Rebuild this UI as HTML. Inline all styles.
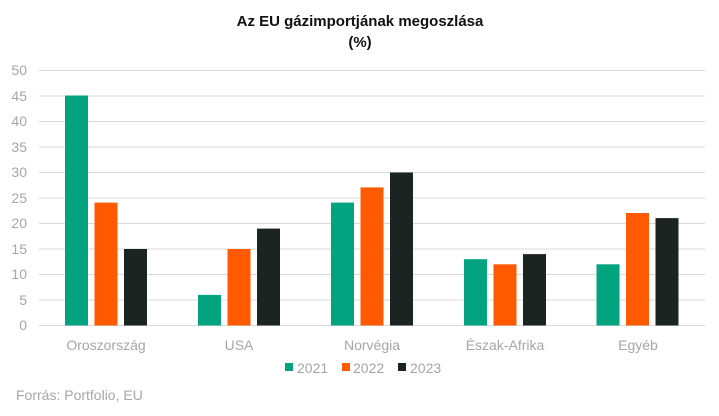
<!DOCTYPE html>
<html><head><meta charset="utf-8"><style>
body{margin:0;background:#fff;}
svg{display:block;font-family:"Liberation Sans",Arial,sans-serif;}
</style></head><body>
<svg width="719" height="416" viewBox="0 0 719 416" xmlns="http://www.w3.org/2000/svg">
<rect width="719" height="416" fill="#fff"/>
<text x="360" y="26" text-anchor="middle" font-size="15" font-weight="bold" fill="#111">Az EU gázimportjának megoszlása</text>
<text x="360" y="47" text-anchor="middle" font-size="15" font-weight="bold" fill="#111">(%)</text>
<g stroke="#d9d9d9" stroke-width="1">
<line x1="39" x2="705" y1="70.5" y2="70.5"/><line x1="39" x2="705" y1="96" y2="96"/>
<line x1="39" x2="705" y1="121.5" y2="121.5"/><line x1="39" x2="705" y1="147" y2="147"/>
<line x1="39" x2="705" y1="172.5" y2="172.5"/><line x1="39" x2="705" y1="198" y2="198"/>
<line x1="39" x2="705" y1="223.5" y2="223.5"/><line x1="39" x2="705" y1="249" y2="249"/>
<line x1="39" x2="705" y1="274.5" y2="274.5"/><line x1="39" x2="705" y1="300" y2="300"/>
<line x1="39" x2="705" y1="325.5" y2="325.5"/>
</g>
<g font-size="14" fill="#a6a6a6" text-anchor="end">
<text x="27" y="75">50</text><text x="27" y="101">45</text><text x="27" y="126">40</text>
<text x="27" y="152">35</text><text x="27" y="177">30</text><text x="27" y="203">25</text>
<text x="27" y="228">20</text><text x="27" y="254">15</text><text x="27" y="279">10</text>
<text x="27" y="305">5</text><text x="27" y="330">0</text>
</g>
<g>
<rect x="65" y="95.5" width="23" height="230" fill="#02a37f"/>
<rect x="94.5" y="202.6" width="23" height="122.9" fill="#ff5a00"/>
<rect x="124" y="249" width="23" height="76.5" fill="#1b2421"/>
<rect x="198" y="294.9" width="23" height="30.6" fill="#02a37f"/>
<rect x="227.5" y="249" width="23" height="76.5" fill="#ff5a00"/>
<rect x="257" y="228.6" width="23" height="96.9" fill="#1b2421"/>
<rect x="331" y="202.6" width="23" height="122.9" fill="#02a37f"/>
<rect x="360.5" y="187.4" width="23" height="138.1" fill="#ff5a00"/>
<rect x="390" y="172.5" width="23" height="153" fill="#1b2421"/>
<rect x="464" y="259.2" width="23" height="66.3" fill="#02a37f"/>
<rect x="493.5" y="264.3" width="23" height="61.2" fill="#ff5a00"/>
<rect x="523" y="254.1" width="23" height="71.4" fill="#1b2421"/>
<rect x="596.5" y="264.3" width="23" height="61.2" fill="#02a37f"/>
<rect x="626" y="213" width="23" height="112.5" fill="#ff5a00"/>
<rect x="655.5" y="218.1" width="23" height="107.4" fill="#1b2421"/>
</g>
<g font-size="14" fill="#a6a6a6" text-anchor="middle">
<text x="106" y="350">Oroszország</text>
<text x="239" y="350">USA</text>
<text x="372" y="350">Norvégia</text>
<text x="505" y="350">Észak-Afrika</text>
<text x="638" y="350">Egyéb</text>
</g>
<g font-size="14" fill="#a6a6a6">
<rect x="285" y="363" width="8" height="8" fill="#02a37f"/><text x="297" y="373">2021</text>
<rect x="342" y="363" width="8" height="8" fill="#ff5a00"/><text x="353" y="373">2022</text>
<rect x="398" y="363" width="8" height="8" fill="#1b2421"/><text x="410" y="373">2023</text>
</g>
<text x="16" y="400" font-size="14" fill="#a6a6a6">Forrás: Portfolio, EU</text>
</svg>
</body></html>
